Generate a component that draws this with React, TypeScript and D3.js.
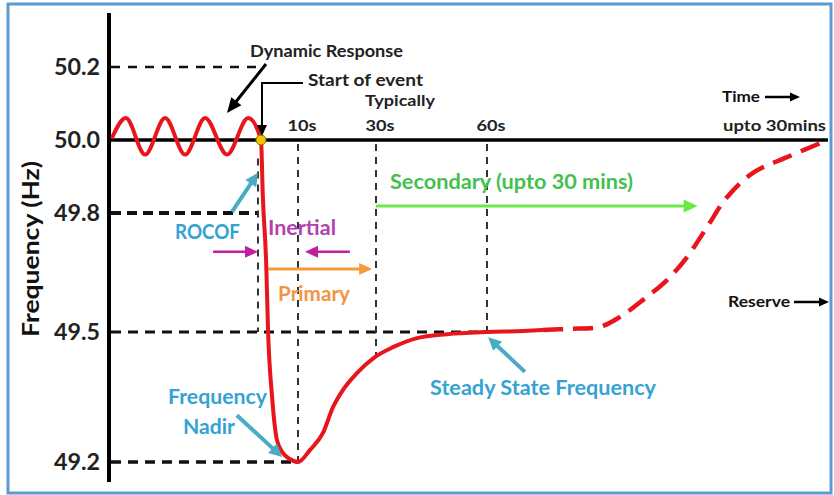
import React from 'react';
import * as d3 from 'd3';

const W = 834;
const H = 495;

// Schematic time axis (seconds, 0 = start of event) and frequency (Hz)
const timeKnots = [-40, 0, 10, 30, 60, 150];
const freqTicks = [49.2, 49.5, 49.8, 50.0, 50.2];
const freqTickLabels = ['49.2', '49.5', '49.8', '50.0', '50.2'];
const timeMarks = [10, 30, 60];
const timeMarkLabels = ['10s', '30s', '60s'];

// Frequency trace (solid part): pre-event oscillation, drop, nadir, recovery
const solidTime = [-39.5, -35.8, -30.7, -25.4, -20.1, -14.8, -9.0, -3.4, 0, 0.5, 1.4, 1.9, 3.0, 4.3, 5.9, 7.8, 10, 13.1, 16.4, 19.0, 21.5, 25.1, 29.7, 34.6, 41.1, 49.2, 60, 69.5, 74.8];
const solidFreq = [50.005, 50.06, 49.96, 50.06, 49.96, 50.06, 49.96, 50.06, 50.0, 49.844, 49.674, 49.505, 49.35, 49.251, 49.221, 49.207, 49.2, 49.228, 49.267, 49.327, 49.366, 49.405, 49.442, 49.465, 49.486, 49.495, 49.5, 49.5025, 49.505];
// Frequency trace (dashed part): secondary/reserve restoration back to 50 Hz
const dashedTime = [74.8, 81.9, 89.8, 95.1, 101.2, 107.5, 112.8, 118.1, 123.4, 130.2, 139.2, 150];
const dashedFreq = [49.505, 49.508, 49.513, 49.538, 49.581, 49.631, 49.689, 49.765, 49.844, 49.91, 49.953, 50.0];

const FONT = 'Lato, "Open Sans", sans-serif';
const RED = '#e8151c';
const TEAL = '#4aabc4';
const TEAL_TXT = '#35a2d4';
const MAGENTA = '#c0209f';
const MAGENTA_TXT = '#b43fae';
const ORANGE = '#f59a38';
const ORANGE_TXT = '#f29442';
const GREEN = '#6ae845';
const GREEN_TXT = '#45c04f';

function Arrow({ x1, y1, x2, y2, color, width, head = 12, headW = 11 }: any) {
  const dx = x2 - x1;
  const dy = y2 - y1;
  const len = Math.sqrt(dx * dx + dy * dy);
  const ux = dx / len;
  const uy = dy / len;
  const bx = x2 - ux * head;
  const by = y2 - uy * head;
  const px = -uy * headW / 2;
  const py = ux * headW / 2;
  return (
    <g>
      <line x1={x1} y1={y1} x2={bx + ux * 1} y2={by + uy * 1} stroke={color} strokeWidth={width} />
      <polygon points={`${x2},${y2} ${bx + px},${by + py} ${bx - px},${by - py}`} fill={color} />
    </g>
  );
}

function Label({ x, y, w, size, color, anchor = 'start', children }: any) {
  return (
    <text
      x={x}
      y={y}
      dy="0.36em"
      textAnchor={anchor}
      fontSize={size}
      fontWeight={700}
      fill={color}
      textLength={w}
      lengthAdjust="spacingAndGlyphs"
    >
      {children}
    </text>
  );
}

export default function App() {
  const x = d3.scaleLinear().domain(timeKnots).range([110, 261, 298, 376, 487, 828]);
  const y = d3.scaleLinear().domain(freqTicks).range([462, 332, 213, 140, 67]);

  const line = d3
    .line<[number, number]>()
    .x((d) => x(d[0]))
    .y((d) => y(d[1]))
    .curve(d3.curveMonotoneX);
  const smooth = d3
    .line<[number, number]>()
    .x((d) => x(d[0]))
    .y((d) => y(d[1]))
    .curve(d3.curveCatmullRom.alpha(0.5));

  const solidPts = solidTime.map((t, i) => [t, solidFreq[i]] as [number, number]);
  const dashedPts = dashedTime.map((t, i) => [t, dashedFreq[i]] as [number, number]);

  const axisX = 109;
  const y50 = y(50.0);

  const hRefs = [
    { f: 50.2, t: 1.0, w: 2.5, dash: '9 8' },
    { f: 49.8, t: -0.8, w: 4, dash: '10 6' },
    { f: 49.5, t: 60, w: 3, dash: '10 7' },
    { f: 49.2, t: 10, w: 3.5, dash: '10 7' },
  ];
  const vRefs = [
    { t: -0.8, f1: 49.96, f2: 49.5 },
    { t: 10, f1: 50.0, f2: 49.2 },
    { t: 30, f1: 50.0, f2: 49.442 },
    { t: 60, f1: 50.0, f2: 49.5 },
  ];

  return (
    <svg width={W} height={H} style={{ position: 'absolute', left: 0, top: 0, display: 'block', background: '#fff' }} fontFamily={FONT}>
      <rect x={0} y={0} width={W} height={H} fill="#fff" />
      <rect x={8} y={4} width={823} height={489} fill="none" stroke="#5b9bd5" strokeWidth={3} />

      {hRefs.map((r, i) => (
        <line key={'h' + i} x1={axisX + 2} x2={x(r.t)} y1={y(r.f)} y2={y(r.f)} stroke="#111" strokeWidth={r.w} strokeDasharray={r.dash} />
      ))}
      {vRefs.map((r, i) => (
        <line key={'v' + i} x1={x(r.t)} x2={x(r.t)} y1={y(r.f1) + 4} y2={y(r.f2)} stroke="#333" strokeWidth={2} strokeDasharray="7 6" />
      ))}

      <line x1={axisX} x2={axisX} y1={13} y2={482} stroke="#000" strokeWidth={4} />
      <line x1={axisX} x2={x(150)} y1={y50} y2={y50} stroke="#000" strokeWidth={3.5} />

      <path d={line(solidPts) || ''} fill="none" stroke={RED} strokeWidth={4} strokeLinejoin="round" />
      <path d={smooth(dashedPts) || ''} fill="none" stroke={RED} strokeWidth={4.5} strokeDasharray="20 10" />

      <circle cx={x(0)} cy={y50} r={5} fill="#f2c200" stroke="#8a7400" strokeWidth={1} />

      {freqTicks.map((f, i) => (
        <Label key={'yt' + i} x={100} y={y(f)} w={46} size={23} color="#222" anchor="end">
          {freqTickLabels[i]}
        </Label>
      ))}
      <text
        transform="translate(31,249) rotate(-90)"
        textAnchor="middle"
        dy="0.36em"
        fontSize={22}
        fontWeight={700}
        fill="#111"
        textLength={176}
        lengthAdjust="spacingAndGlyphs"
      >
        Frequency (Hz)
      </text>

      {timeMarks.map((t, i) => (
        <Label key={'xt' + i} x={x(t) + 4} y={125} w={29} size={16} color="#222" anchor="middle">
          {timeMarkLabels[i]}
        </Label>
      ))}
      <Label x={365} y={100} w={70} size={16} color="#222">Typically</Label>
      <Label x={723} y={125} w={103} size={16} color="#222">upto 30mins</Label>
      <Label x={722} y={96} w={38} size={16} color="#111">Time</Label>
      <Arrow x1={765} y1={97} x2={800} y2={97} color="#000" width={2.5} head={10} headW={9} />
      <Label x={728} y={301} w={62} size={16} color="#111">Reserve</Label>
      <Arrow x1={794} y1={302} x2={829} y2={302} color="#000" width={2.5} head={10} headW={9} />

      <Label x={250} y={51} w={153} size={17} color="#222">Dynamic Response</Label>
      <Arrow x1={266} y1={64} x2={227} y2={113} color="#000" width={3} head={15} headW={13} />
      <Label x={308} y={80} w={115} size={17} color="#222">Start of event</Label>
      <path d={`M303,83 H${x(0) + 1} V126`} fill="none" stroke="#000" strokeWidth={2} />
      <polygon points={`${x(0) + 1},136 ${x(0) - 4},125 ${x(0) + 6},125`} fill="#000" />

      <Arrow x1={x(-7.7)} y1={y(49.803)} x2={x(-0.8)} y2={y(49.91)} color={TEAL} width={4} head={13} headW={13} />
      <Label x={175} y={232} w={65} size={20} color={TEAL_TXT}>ROCOF</Label>

      <Label x={268} y={228} w={68} size={20} color={MAGENTA_TXT}>Inertial</Label>
      <Arrow x1={x(-12.7)} y1={y(49.702)} x2={x(-0.8)} y2={y(49.702)} color={MAGENTA} width={2.5} head={13} headW={12} />
      <Arrow x1={x(23.3)} y1={y(49.702)} x2={x(11.8)} y2={y(49.702)} color={MAGENTA} width={2.5} head={13} headW={12} />

      <Arrow x1={x(1.9)} y1={y(49.659)} x2={x(29)} y2={y(49.659)} color={ORANGE} width={3} head={13} headW={12} />
      <Label x={278} y={294} w={72} size={20} color={ORANGE_TXT}>Primary</Label>

      <Label x={390} y={182} w={243} size={20} color={GREEN_TXT}>Secondary (upto 30 mins)</Label>
      <Arrow x1={x(30)} y1={y(49.819)} x2={x(115.6)} y2={y(49.819)} color={GREEN} width={3} head={14} headW={13} />

      <Label x={168} y={397} w={99} size={20} color={TEAL_TXT}>Frequency</Label>
      <Label x={183} y={427} w={52} size={20} color={TEAL_TXT}>Nadir</Label>
      <Arrow x1={x(-6.4)} y1={y(49.308)} x2={x(5.7)} y2={y(49.2115)} color={TEAL} width={4} head={13} headW={13} />

      <Arrow x1={x(70)} y1={y(49.408)} x2={x(60.3)} y2={y(49.488)} color={TEAL} width={4} head={13} headW={13} />
      <Label x={430} y={388} w={226} size={20} color={TEAL_TXT}>Steady State Frequency</Label>
    </svg>
  );
}
